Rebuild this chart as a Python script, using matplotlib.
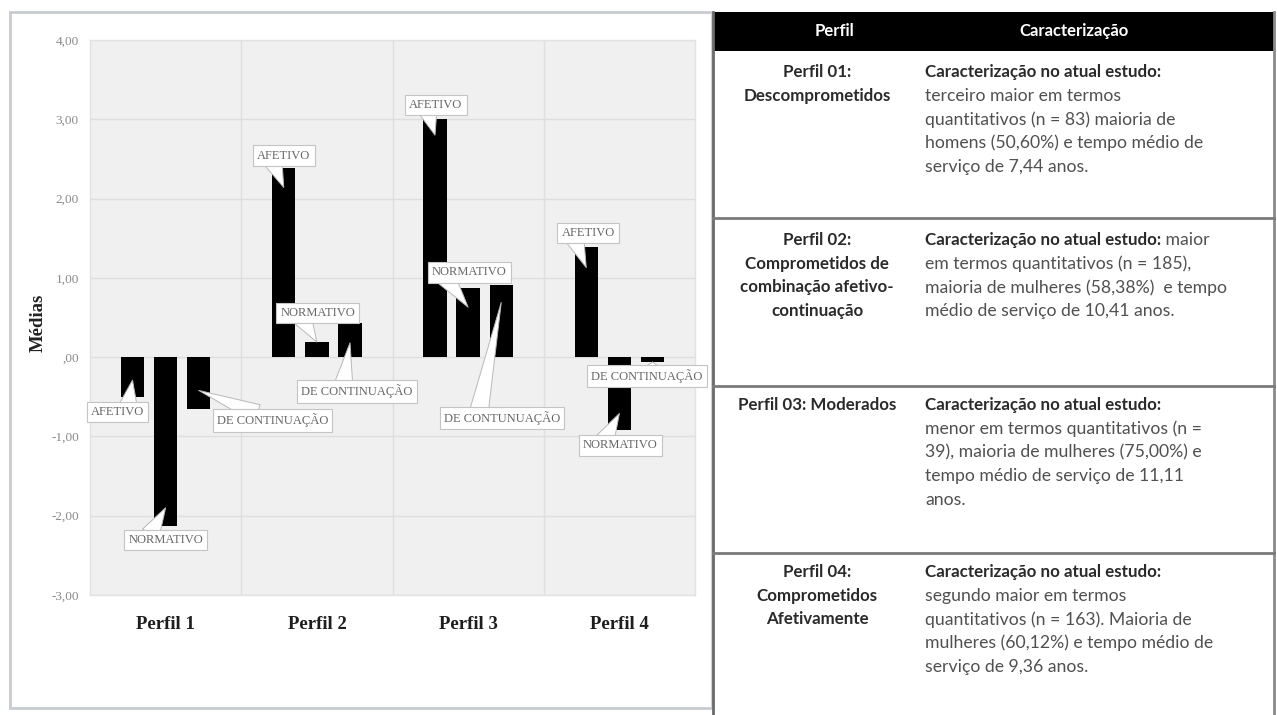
import matplotlib
matplotlib.use("Agg")
import matplotlib.pyplot as plt
from matplotlib.patches import Rectangle
from matplotlib.ticker import FixedLocator

# ---- data -------------------------------------------------------------
categories = ["Perfil 1", "Perfil 2", "Perfil 3", "Perfil 4"]
afetivo = [-0.50, 2.38, 3.00, 1.39]
normativo = [-2.13, 0.19, 0.87, -0.92]
continuacao = [-0.66, 0.43, 0.91, -0.06]
series_names = ["AFETIVO", "NORMATIVO", "DE CONTINUAÇÃO"]
# label text printed next to each bar (Perfil 3 keeps its original spelling)
bar_labels = [
    ["AFETIVO", "NORMATIVO", "DE CONTINUAÇÃO"],
    ["AFETIVO", "NORMATIVO", "DE CONTINUAÇÃO"],
    ["AFETIVO", "NORMATIVO", "DE CONTUNUAÇÃO"],
    ["AFETIVO", "NORMATIVO", "DE CONTINUAÇÃO"],
]
y_ticks = [-3, -2, -1, 0, 1, 2, 3, 4]
y_ticklabels = ["-3,00", "-2,00", "-1,00", ",00", "1,00", "2,00", "3,00", "4,00"]

table_header = ["Perfil", "Caracterização"]
table_profiles = [
    ["Perfil 01:", "Descomprometidos"],
    ["Perfil 02:", "Comprometidos de", "combinação afetivo-", "continuação"],
    ["Perfil 03: Moderados"],
    ["Perfil 04:", "Comprometidos", "Afetivamente"],
]
table_lead = "Caracterização no atual estudo:"
table_text = [
    ["", "terceiro maior em termos", "quantitativos (n = 83) maioria de",
     "homens (50,60%) e tempo médio de", "serviço de 7,44 anos."],
    [" maior", "em termos quantitativos (n = 185),",
     "maioria de mulheres (58,38%)  e tempo", "médio de serviço de 10,41 anos."],
    ["", "menor em termos quantitativos (n =", "39), maioria de mulheres (75,00%) e",
     "tempo médio de serviço de 11,11", "anos."],
    ["", "segundo maior em termos", "quantitativos (n = 163). Maioria de",
     "mulheres (60,12%) e tempo médio de", "serviço de 9,36 anos."],
]

# ---- layout / style -----------------------------------------------------
W, H = 1277, 715
bar_offsets = [-0.219, 0.0, 0.219]
bar_width = 0.155
# callout placement per bar: (dx pt, dy pt, relpos on box, tip depth into bar)
callouts = [
    [(-10.8, -23, (0.70, 1.0), 0.21), (0, -23, (0.30, 1.0), 0.23), (53, -21.6, (0.36, 1.0), 0.24)],
    [(0, 23, (0.30, 0.0), 0.24), (0.7, 21, (0.30, 0.0), 0.0), (5, -35, (0.38, 1.0), 0.25)],
    [(0.7, 21.6, (0.35, 0.0), 0.20), (0.7, 25, (0.20, 0.0), 0.24), (0.7, -83.5, (0.30, 1.0), 0.22)],
    [(1.4, 25, (0.25, 0.0), 0.26), (0.7, -23, (0.30, 1.0), 0.21), (-4, -10, (0.55, 1.0), 0.0)],
]
serif = ["Liberation Serif", "DejaVu Serif"]
sans = ["Lato", "DejaVu Sans"]

fig = plt.figure(figsize=(W / 100, H / 100), dpi=100)
fig.patch.set_facecolor("white")

# chart panel frame (drawn in pixel coordinates)
frame = fig.add_axes([0, 0, 1, 1], zorder=0)
frame.set_xlim(0, W)
frame.set_ylim(H, 0)
frame.axis("off")
frame.add_patch(Rectangle((10, 12), 702, 696, facecolor="white",
                          edgecolor="#c8cbd0", lw=2))

# ---- bar chart ---------------------------------------------------------
ax_l, ax_r, ax_t, ax_b = 90, 695, 40, 595
ax = fig.add_axes([ax_l / W, 1 - ax_b / H, (ax_r - ax_l) / W, (ax_b - ax_t) / H], zorder=1)
ax.set_facecolor("#f0f0f0")
ax.set_xlim(-0.5, len(categories) - 0.5)
ax.set_ylim(-3, 4)
for s in ax.spines.values():
    s.set_color("#e2e2e2")
    s.set_linewidth(1)

series = [afetivo, normativo, continuacao]
xs = list(range(len(categories)))
for si, vals in enumerate(series):
    ax.bar([x + bar_offsets[si] for x in xs], vals, width=bar_width,
           color="black", zorder=3, label=series_names[si])

ax.set_yticks(y_ticks)
ax.set_yticklabels(y_ticklabels, fontfamily=serif, fontsize=9.5, color="#8a8a8a")
ax.set_xticks(xs)
ax.set_xticklabels(categories, fontfamily=serif, fontsize=13.5,
                   fontweight="bold", color="#1e1e1e")
ax.xaxis.set_minor_locator(FixedLocator([0.5, 1.5, 2.5]))
ax.tick_params(axis="y", length=0, pad=8)
ax.tick_params(axis="x", which="both", length=0, pad=15)
ax.grid(True, axis="y", which="major", color="#dedede", lw=1, zorder=0)
ax.grid(True, axis="x", which="minor", color="#dedede", lw=1, zorder=0)
ax.set_axisbelow(True)
ax.set_ylabel("Médias", fontfamily=serif, fontsize=13.5, fontweight="bold", color="#222222")
ax.yaxis.set_label_coords(-0.071, 0.49)

for ci in range(len(categories)):
    for si, vals in enumerate(series):
        v = vals[ci]
        dx, dy, rp, depth = callouts[ci][si]
        sign = 1 if v >= 0 else -1
        tip = (ci + bar_offsets[si], v - sign * depth)
        ax.annotate(
            bar_labels[ci][si], xy=tip, xytext=(dx, dy), textcoords="offset points",
            ha="center", va="center", fontfamily=serif, fontsize=9, color="#666666",
            zorder=5, annotation_clip=False,
            bbox=dict(boxstyle="square,pad=0.33", facecolor="white",
                      edgecolor="#c4c4c4", lw=0.8),
            arrowprops=dict(arrowstyle="wedge,tail_width=1.5,shrink_factor=0.5",
                            facecolor="white", edgecolor="#b8b8b8", lw=0.7,
                            relpos=rp, patchA=None, shrinkA=0, shrinkB=0),
        )

# ---- characterisation table -------------------------------------------
tab = fig.add_axes([0, 0, 1, 1], zorder=2)
tab.set_xlim(0, W)
tab.set_ylim(H, 0)
tab.axis("off")
tab.patch.set_alpha(0)

t_left, t_right, t_top = 713, 1274, 12
header_bottom = 51
row_lines = [218, 386, 553]
tab.add_patch(Rectangle((t_left, t_top), t_right - t_left + 1, header_bottom - t_top,
                        facecolor="black", edgecolor="none"))
tab.plot([t_left, t_left], [t_top, H], color="#6a6a6a", lw=2)
tab.plot([t_right, t_right], [t_top, H], color="#8a8a8a", lw=2)
for yl in row_lines:
    tab.plot([t_left, t_right], [yl, yl], color="#7a7a7a", lw=2)

tab.text(834, 31, table_header[0], ha="center", va="center", fontfamily=sans,
         fontsize=12, fontweight="bold", color="white")
tab.text(1074, 31, table_header[1], ha="center", va="center", fontfamily=sans,
         fontsize=12, fontweight="bold", color="white")

row_first_line = [72, 240, 405, 572]
line_step = 23.7
col1_x, col2_x = 817, 925
fs_bold, fs_reg = 12.2, 12.7
for ri in range(len(table_profiles)):
    y0 = row_first_line[ri]
    for li, line in enumerate(table_profiles[ri]):
        tab.text(col1_x, y0 + li * line_step, line, ha="center", va="center",
                 fontfamily=sans, fontsize=fs_bold, fontweight="bold", color="#2a2a2a")
    lead = tab.text(col2_x, y0, table_lead, ha="left", va="center",
                    fontfamily=sans, fontsize=fs_bold, fontweight="bold", color="#2a2a2a")
    for li, line in enumerate(table_text[ri]):
        if li == 0:
            if line:
                tab.annotate(line, xy=(1, 0.5), xycoords=lead, ha="left", va="center",
                             fontfamily=sans, fontsize=fs_reg, color="#505050")
            continue
        tab.text(col2_x, y0 + li * line_step, line, ha="left", va="center",
                 fontfamily=sans, fontsize=fs_reg, color="#505050")

fig.savefig("out.png", dpi=100, facecolor="white")
